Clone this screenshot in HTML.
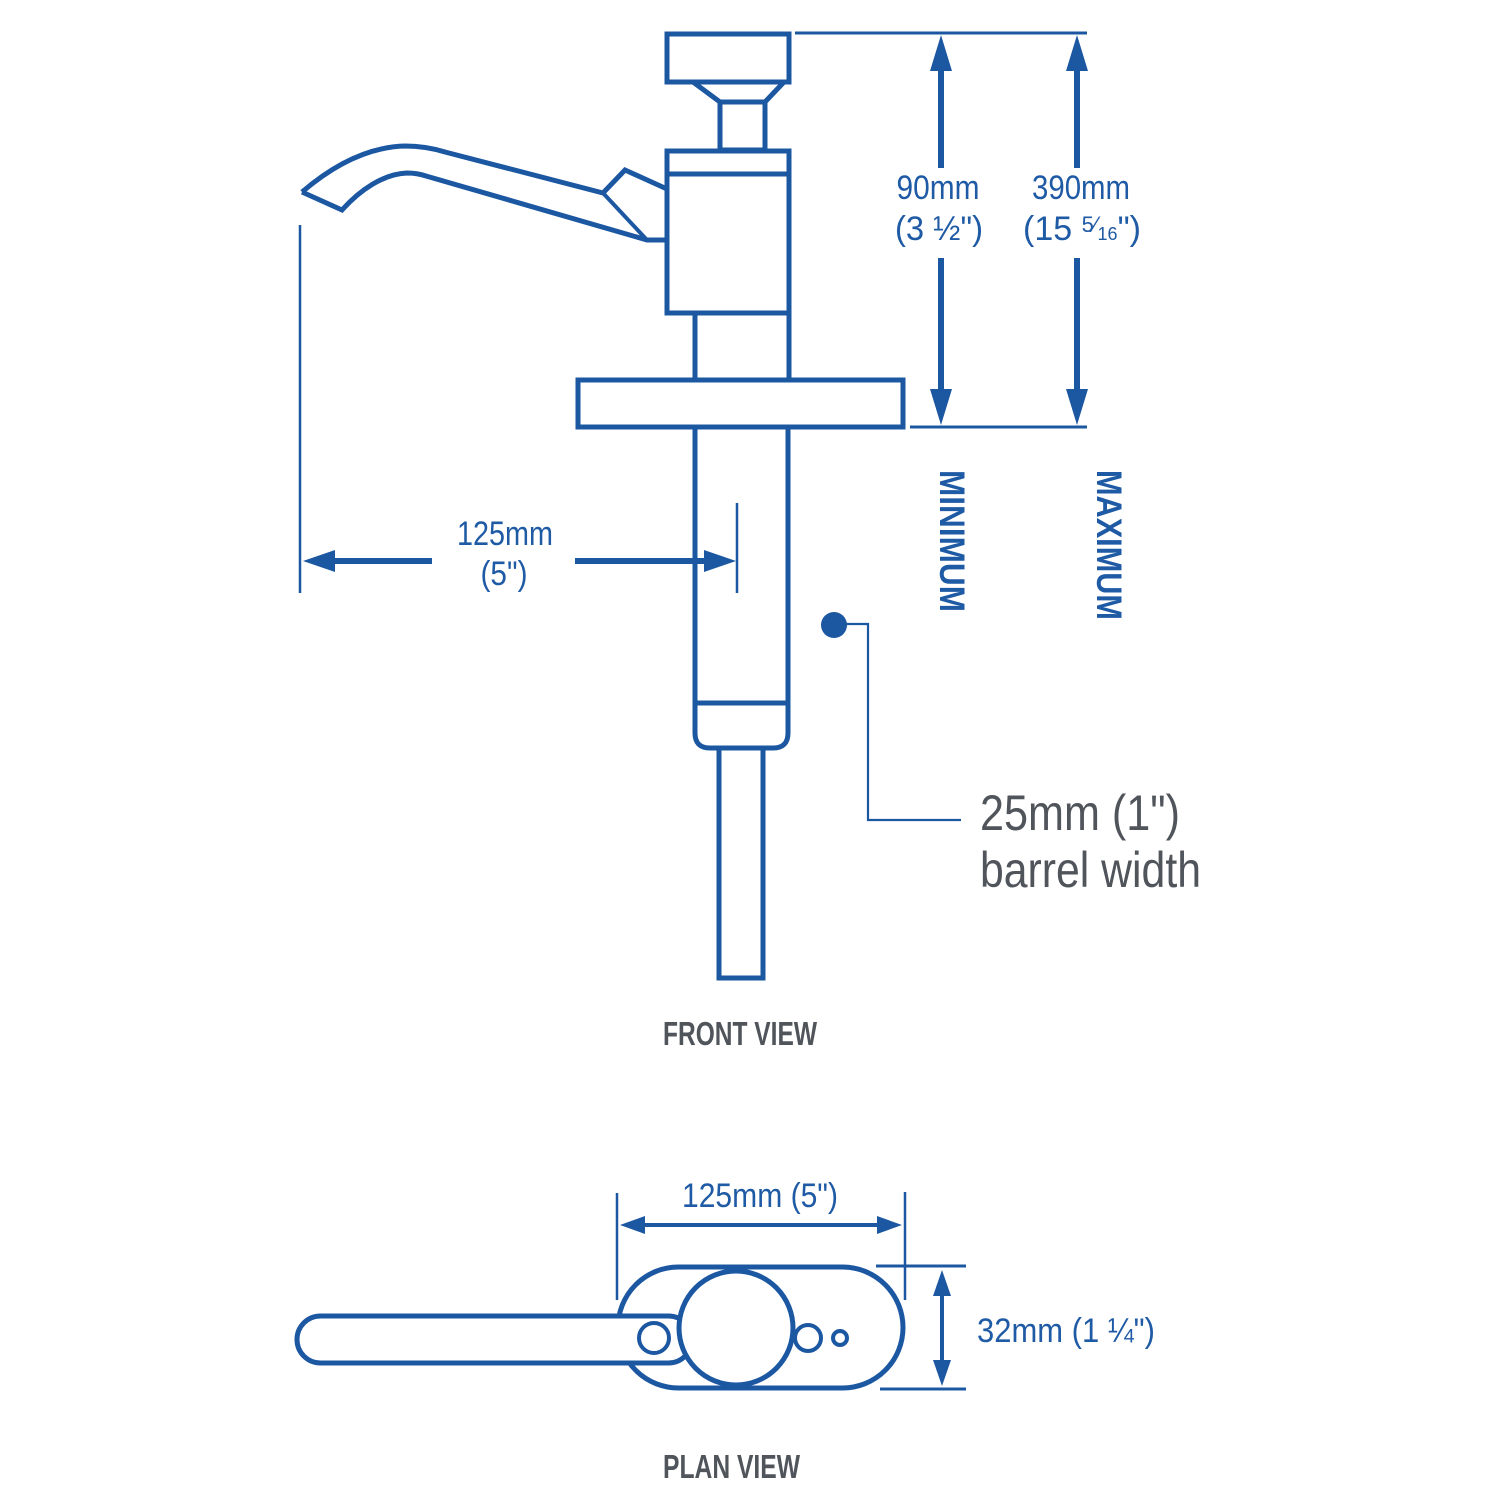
<!DOCTYPE html>
<html>
<head>
<meta charset="utf-8">
<style>
  html,body{margin:0;padding:0;background:#fff;}
  svg{display:block;}
  .b{fill:none;stroke:#1c57a2;stroke-linejoin:miter;}
  .t{font-family:"Liberation Sans Narrow","Liberation Sans",sans-serif;fill:#1f5aa5;}
  .g{font-family:"Liberation Sans Narrow","Liberation Sans",sans-serif;fill:#50545b;}
</style>
</head>
<body>
<svg width="1500" height="1500" viewBox="0 0 1500 1500" xmlns="http://www.w3.org/2000/svg">
  <rect width="1500" height="1500" fill="#fff"/>

  <!-- ===== FRONT VIEW ===== -->
  <g class="b" stroke-width="5">
    <!-- cap -->
    <rect x="667" y="34" width="122" height="48" fill="#fff"/>
    <!-- neck trapezoid -->
    <path d="M693 82 L720 102 L765 102 L784 82" />
    <rect x="720" y="102" width="45" height="48"/>
    <!-- body -->
    <rect x="667" y="151" width="122" height="162" fill="#fff"/>
    <line x1="667" y1="174" x2="789" y2="174"/>
    <!-- stem -->
    <rect x="695" y="313" width="94" height="67"/>
    <!-- flange -->
    <rect x="578" y="380" width="325" height="47" fill="#fff"/>
    <!-- barrel -->
    <path d="M695 427 L695 733 Q695 748 710 748 L773 748 Q788 748 788 733 L788 427"/>
    <line x1="695" y1="703" x2="788" y2="703"/>
    <!-- lower stem -->
    <rect x="719" y="748" width="44" height="230"/>
    <!-- spout -->
    <path d="M302 192 C330 168 365 147 405 146 C420 146 432 148 445 152 L603 193 L625 170 L667 189"/>
    <path d="M302 192 L342 210 C360 190 383 174 407 173 C414 173 420 174 426 176 L647 240 L667 240"/>
    <line x1="603" y1="193" x2="647" y2="240" stroke-width="4"/>
  </g>

  <!-- spout extension line -->
  <line x1="300" y1="225" x2="300" y2="593" stroke="#1c57a2" stroke-width="2.5"/>
  <line x1="737" y1="503" x2="737" y2="593" stroke="#1c57a2" stroke-width="2.5"/>

  <!-- 125mm horizontal dimension -->
  <g fill="#1c57a2">
    <rect x="325" y="558" width="107" height="6"/>
    <polygon points="303,561 335,550 335,572"/>
    <rect x="575" y="558" width="135" height="6"/>
    <polygon points="736,561 704,550 704,572"/>
  </g>
  <text class="t" x="505" y="545" font-size="34" text-anchor="middle" textLength="96" lengthAdjust="spacingAndGlyphs">125mm</text>
  <text class="t" x="504" y="585" font-size="34" text-anchor="middle" textLength="47" lengthAdjust="spacingAndGlyphs">(5")</text>

  <!-- vertical dims top -->
  <line x1="795" y1="33" x2="1087" y2="33" stroke="#1c57a2" stroke-width="3"/>
  <line x1="910" y1="427" x2="1087" y2="427" stroke="#1c57a2" stroke-width="3"/>
  <g fill="#1c57a2">
    <rect x="938" y="60" width="6" height="108"/>
    <polygon points="941,35 930,71 952,71"/>
    <rect x="938" y="258" width="6" height="140"/>
    <polygon points="941,425 930,389 952,389"/>
    <rect x="1074" y="60" width="6" height="108"/>
    <polygon points="1077,35 1066,71 1088,71"/>
    <rect x="1074" y="258" width="6" height="140"/>
    <polygon points="1077,425 1066,389 1088,389"/>
  </g>
  <text class="t" x="938" y="199" font-size="34" text-anchor="middle" textLength="83" lengthAdjust="spacingAndGlyphs">90mm</text>
  <text class="t" x="939" y="240" font-size="34" text-anchor="middle" textLength="88" lengthAdjust="spacingAndGlyphs">(3 ½")</text>
  <text class="t" x="1081" y="199" font-size="34" text-anchor="middle" textLength="98" lengthAdjust="spacingAndGlyphs">390mm</text>
  <text class="t" x="1023" y="240" font-size="34">(15 <tspan font-size="22" dy="-8">5</tspan><tspan font-size="22">⁄</tspan><tspan font-size="18" dy="8">16</tspan>")</text>

  <!-- MINIMUM / MAXIMUM -->
  <text class="t" font-weight="bold" font-size="35" transform="translate(940,470) rotate(90)" textLength="142" lengthAdjust="spacingAndGlyphs">MINIMUM</text>
  <text class="t" font-weight="bold" font-size="35" transform="translate(1097,470) rotate(90)" textLength="150" lengthAdjust="spacingAndGlyphs">MAXIMUM</text>

  <!-- callout -->
  <circle cx="834" cy="625" r="13" fill="#1c57a2"/>
  <path d="M834 624 L868 624 L868 820 L961 820" fill="none" stroke="#1c57a2" stroke-width="2.2"/>
  <text class="g" x="980" y="830" font-size="50" textLength="200" lengthAdjust="spacingAndGlyphs">25mm (1")</text>
  <text class="g" x="980" y="887" font-size="50" textLength="221" lengthAdjust="spacingAndGlyphs">barrel width</text>

  <text class="g" x="663" y="1045" font-size="33" font-weight="bold" textLength="154" lengthAdjust="spacingAndGlyphs">FRONT VIEW</text>

  <!-- ===== PLAN VIEW ===== -->
  <line x1="617" y1="1193" x2="617" y2="1300" stroke="#1c57a2" stroke-width="2.5"/>
  <line x1="905" y1="1192" x2="905" y2="1300" stroke="#1c57a2" stroke-width="2.5"/>
  <g fill="#1c57a2">
    <rect x="640" y="1223" width="242" height="4"/>
    <polygon points="620,1225 645,1216 645,1234"/>
    <polygon points="902,1225 877,1216 877,1234"/>
  </g>
  <text class="t" x="682" y="1207" font-size="34" textLength="156" lengthAdjust="spacingAndGlyphs">125mm (5")</text>

  <g class="b" stroke-width="5">
    <rect x="618" y="1267" width="285" height="121" rx="60.5" fill="#fff"/>
    <rect x="297" y="1316" width="395" height="47" rx="23.5" fill="#fff"/>
    <circle cx="736" cy="1328" r="57" fill="#fff"/>
  </g>
  <g class="b" stroke-width="4">
    <circle cx="654" cy="1338" r="15" fill="#fff"/>
    <circle cx="808" cy="1338" r="13"/>
    <circle cx="840" cy="1338" r="7"/>
  </g>

  <line x1="876" y1="1266" x2="966" y2="1266" stroke="#1c57a2" stroke-width="3"/>
  <line x1="880" y1="1389" x2="966" y2="1389" stroke="#1c57a2" stroke-width="3"/>
  <g fill="#1c57a2">
    <rect x="940" y="1290" width="4" height="78"/>
    <polygon points="942,1270 933,1296 951,1296"/>
    <polygon points="942,1386 933,1360 951,1360"/>
  </g>
  <text class="t" x="977" y="1342" font-size="34" textLength="178" lengthAdjust="spacingAndGlyphs">32mm (1 ¼")</text>

  <text class="g" x="663" y="1478" font-size="33" font-weight="bold" textLength="137" lengthAdjust="spacingAndGlyphs">PLAN VIEW</text>
</svg>
</body>
</html>
